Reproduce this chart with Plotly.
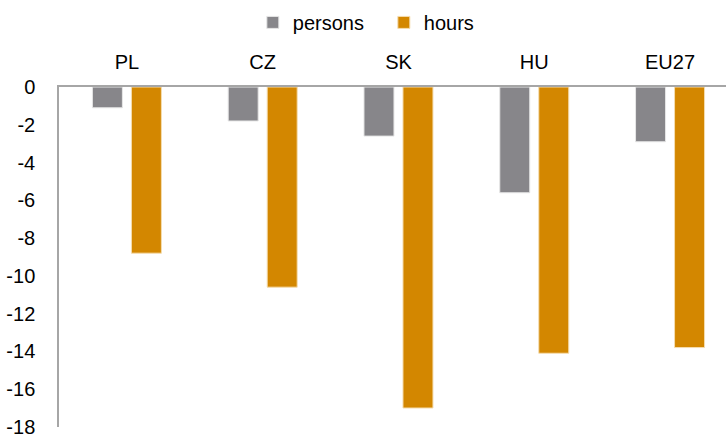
import plotly.graph_objects as go

categories = ["PL", "CZ", "SK", "HU", "EU27"]
persons = [-1.1, -1.8, -2.6, -5.6, -2.9]
hours = [-8.8, -10.6, -17.0, -14.1, -13.8]
y_ticks = [0, -2, -4, -6, -8, -10, -12, -14, -16, -18]

GRAY = "#87868A"
ORANGE = "#D38700"
AXIS = "#A6A6A6"
FONT = dict(family="Liberation Sans, Arial, sans-serif", size=20, color="#000000")

fig = go.Figure()
fig.add_trace(go.Bar(name="persons", x=categories, y=persons,
                     marker=dict(color=GRAY, line=dict(color="#E6E6E6", width=1))))
fig.add_trace(go.Bar(name="hours", x=categories, y=hours,
                     marker=dict(color=ORANGE, line=dict(color="#F5DDB0", width=1))))

fig.update_layout(
    width=726, height=434,
    margin=dict(l=59, r=0, t=87, b=7),
    paper_bgcolor="white", plot_bgcolor="white",
    font=FONT,
    barmode="group", bargap=0.4256, bargroupgap=0.2308,
    showlegend=True,
    legend=dict(orientation="h", x=0.487, xanchor="center", y=1.19, yanchor="middle",
                font=FONT, itemwidth=30, traceorder="normal",
                entrywidth=86, entrywidthmode="pixels"),
)
# the last category runs slightly past the right edge of the figure
fig.update_xaxes(side="top", range=[-0.5, 4.412], showline=True, linecolor=AXIS,
                 linewidth=1.5, showgrid=False, ticks="", ticklabelstandoff=8)
fig.update_yaxes(range=[-18.005, 0], tickvals=y_ticks, ticktext=[str(v) for v in y_ticks],
                 showline=True, linecolor=AXIS, linewidth=1.5, showgrid=False,
                 zeroline=False, ticks="", ticklabelstandoff=18,
                 ticklabeloverflow="allow", automargin=False)

fig.write_html("out.html")
